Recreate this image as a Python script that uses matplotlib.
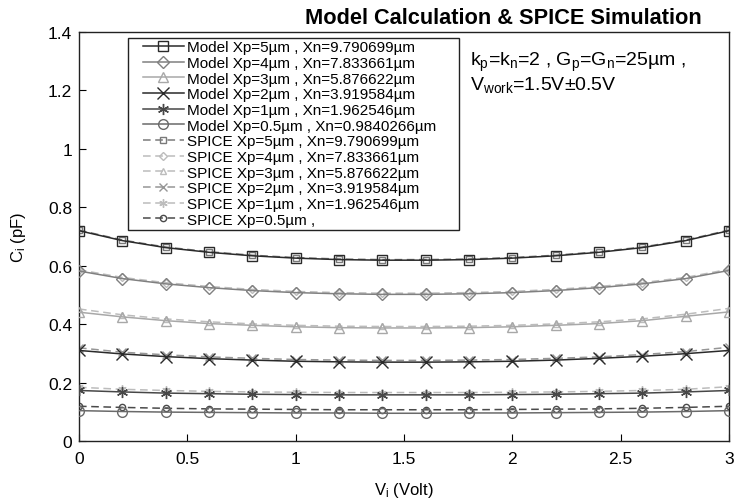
import matplotlib
matplotlib.use("Agg")
import matplotlib.pyplot as plt
from matplotlib.patches import Rectangle
from matplotlib.ticker import FuncFormatter

plt.rcParams['font.family'] = ['Liberation Sans', 'DejaVu Sans']
plt.rcParams['mathtext.fontset'] = 'custom'
plt.rcParams['mathtext.rm'] = 'Liberation Sans'
plt.rcParams['mathtext.it'] = 'Liberation Sans'

# input voltage sweep (Volt)
vi = [0.0, 0.2, 0.4, 0.6, 0.8, 1.0, 1.2, 1.4, 1.6, 1.8, 2.0, 2.2, 2.4, 2.6, 2.8, 3.0]

# model capacitance (pF)
model_xp5 = [0.720, 0.686, 0.662, 0.646, 0.634, 0.626, 0.621, 0.619, 0.619, 0.621, 0.626, 0.634, 0.646, 0.662, 0.686, 0.720]
model_xp4 = [0.582, 0.556, 0.538, 0.525, 0.515, 0.508, 0.504, 0.502, 0.502, 0.504, 0.508, 0.515, 0.525, 0.538, 0.556, 0.584]
model_xp3 = [0.441, 0.425, 0.412, 0.402, 0.396, 0.391, 0.388, 0.387, 0.387, 0.388, 0.391, 0.396, 0.402, 0.412, 0.427, 0.442]
model_xp2 = [0.310, 0.298, 0.289, 0.282, 0.277, 0.273, 0.271, 0.270, 0.270, 0.271, 0.273, 0.277, 0.283, 0.290, 0.299, 0.310]
model_xp1 = [0.173, 0.168, 0.164, 0.162, 0.160, 0.159, 0.158, 0.158, 0.158, 0.158, 0.159, 0.160, 0.162, 0.164, 0.168, 0.173]
model_xp05 = [0.104, 0.101, 0.099, 0.098, 0.097, 0.096, 0.096, 0.095, 0.095, 0.096, 0.096, 0.097, 0.098, 0.099, 0.101, 0.104]

# SPICE capacitance (pF)
spice_xp5 = [0.722, 0.688, 0.664, 0.648, 0.636, 0.628, 0.623, 0.621, 0.621, 0.623, 0.628, 0.636, 0.648, 0.664, 0.688, 0.722]
spice_xp4 = [0.586, 0.560, 0.542, 0.529, 0.519, 0.512, 0.508, 0.506, 0.506, 0.508, 0.512, 0.519, 0.529, 0.542, 0.560, 0.588]
spice_xp3 = [0.452, 0.432, 0.418, 0.408, 0.401, 0.396, 0.393, 0.392, 0.392, 0.393, 0.396, 0.401, 0.408, 0.418, 0.434, 0.454]
spice_xp2 = [0.319, 0.304, 0.295, 0.288, 0.283, 0.279, 0.277, 0.276, 0.276, 0.277, 0.279, 0.283, 0.288, 0.296, 0.306, 0.321]
spice_xp1 = [0.184, 0.177, 0.173, 0.170, 0.168, 0.167, 0.166, 0.166, 0.166, 0.166, 0.167, 0.168, 0.170, 0.173, 0.177, 0.186]
spice_xp05 = [0.119, 0.115, 0.112, 0.110, 0.109, 0.108, 0.107, 0.107, 0.107, 0.107, 0.108, 0.109, 0.110, 0.112, 0.115, 0.119]

model_labels = ["Model Xp=5µm , Xn=9.790699µm",
                "Model Xp=4µm , Xn=7.833661µm",
                "Model Xp=3µm , Xn=5.876622µm",
                "Model Xp=2µm , Xn=3.919584µm",
                "Model Xp=1µm , Xn=1.962546µm",
                "Model Xp=0.5µm , Xn=0.9840266µm"]
spice_labels = ["SPICE Xp=5µm , Xn=9.790699µm",
                "SPICE Xp=4µm , Xn=7.833661µm",
                "SPICE Xp=3µm , Xn=5.876622µm",
                "SPICE Xp=2µm , Xn=3.919584µm",
                "SPICE Xp=1µm , Xn=1.962546µm",
                "SPICE Xp=0.5µm ,"]

model_data = [model_xp5, model_xp4, model_xp3, model_xp2, model_xp1, model_xp05]
spice_data = [spice_xp5, spice_xp4, spice_xp3, spice_xp2, spice_xp1, spice_xp05]

asterisk = (6, 2, 0)
markers = ['s', 'D', '^', 'x', asterisk, 'o']
msize_model = [7, 6, 7, 8, 8, 7]
msize_spice = [4.5, 4.5, 5, 6, 6, 4.5]
model_colors = ['#2a2a2a', '#808080', '#a8a8a8', '#2a2a2a', '#474747', '#6a6a6a']
spice_colors = ['#7a7a7a', '#bcbcbc', '#bcbcbc', '#969696', '#bcbcbc', '#4a4a4a']

fig = plt.figure(figsize=(7.36, 5.02), dpi=100)
ax = fig.add_axes([0.1073, 0.1195, 0.8832, 0.8147])

handles_m = []
handles_s = []
for i in range(6):
    hs, = ax.plot(vi, spice_data[i], linestyle=(0, (5, 3)), color=spice_colors[i], lw=1.1,
                  marker=markers[i], ms=msize_spice[i], mfc='none', mec=spice_colors[i],
                  mew=1.0, label=spice_labels[i], zorder=2)
    handles_s.append(hs)
for i in range(6):
    hm, = ax.plot(vi, model_data[i], linestyle='-', color=model_colors[i], lw=1.1,
                  marker=markers[i], ms=msize_model[i], mfc='none', mec=model_colors[i],
                  mew=1.0, label=model_labels[i], zorder=3)
    handles_m.append(hm)

ax.set_xlim(0, 3)
ax.set_ylim(0, 1.4)
ax.set_xticks([0, 0.5, 1, 1.5, 2, 2.5, 3])
ax.set_yticks([0, 0.2, 0.4, 0.6, 0.8, 1.0, 1.2, 1.4])
ax.xaxis.set_major_formatter(FuncFormatter(lambda v, p: "%g" % v))
ax.yaxis.set_major_formatter(FuncFormatter(lambda v, p: "%g" % v))
ax.tick_params(direction='in', length=5, labelsize=12.5, top=False, right=False)
ax.tick_params(axis='x', pad=7)
ax.tick_params(axis='y', pad=5)
for s in ax.spines.values():
    s.set_linewidth(1.0)
    s.set_color('#222222')

ax.set_xlabel(r"V$_\mathregular{i}$ (Volt)", fontsize=12)
ax.set_ylabel(r"C$_\mathregular{i}$ (pF)", fontsize=12)
ax.xaxis.set_label_coords(0.5, -0.095)
ax.yaxis.set_label_coords(-0.078, 0.5)

fig.text(0.954, 0.964, "Model Calculation & SPICE Simulation", fontsize=15.7,
         fontweight='bold', ha='right', va='center')

ax.text(0.6015, 0.928, r"k$_\mathregular{p}$=k$_\mathregular{n}$=2 , G$_\mathregular{p}$=G$_\mathregular{n}$=25µm ,",
        transform=ax.transAxes, fontsize=14, ha='left', va='center')
ax.text(0.6015, 0.873, r"V$_\mathregular{work}$=1.5V±0.5V",
        transform=ax.transAxes, fontsize=14, ha='left', va='center')

leg = ax.legend(handles=handles_m + handles_s, loc='upper left',
                bbox_to_anchor=(0.098, 0.980), fontsize=11, frameon=False,
                handlelength=2.7, handletextpad=0.2, labelspacing=0.11,
                borderpad=0.0, borderaxespad=0.0)

# legend frame drawn separately, wider on the right
ax.add_patch(Rectangle((0.0754, 0.517), 0.5092, 0.468, transform=ax.transAxes,
                       fill=True, facecolor='white', edgecolor='#222222', lw=1.0, zorder=4))
leg.set_zorder(5)

fig.savefig("out.png", dpi=100)
